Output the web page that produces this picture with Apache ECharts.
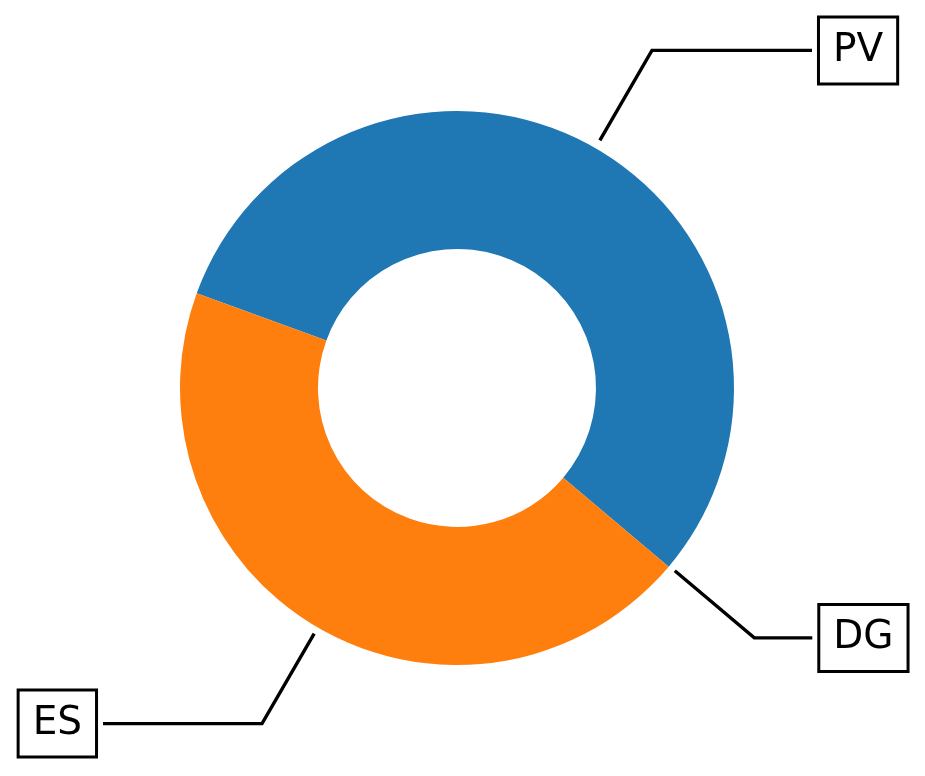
<!DOCTYPE html>
<html>
<head>
<meta charset="utf-8">
<script src="https://cdn.jsdelivr.net/npm/echarts@6/dist/echarts.min.js"></script>
<style>
html,body{margin:0;padding:0;background:#fff;}
#chart{width:925px;height:776px;}
</style>
</head>
<body>
<div id="chart"></div>
<script>
// Data
const categories = ['PV', 'DG', 'ES'];
const values = [55.6, 0, 44.4];

// Styles (kept separate from data)
const sliceColors = { PV: '#1f77b4', DG: '#2ca02c', ES: '#ff7f0e' };
const secondLegs = { PV: 160, DG: 58, ES: 159 };

const chart = echarts.init(document.getElementById('chart'), null, { renderer: 'canvas' });

const ringData = categories.map((c, i) => ({
  name: c,
  value: values[i],
  itemStyle: { color: sliceColors[c] }
}));

const labelData = categories.map((c, i) => ({
  name: c,
  value: values[i],
  labelLine: { length2: secondLegs[c] }
}));

const common = {
  type: 'pie',
  center: [457, 388],
  startAngle: 160,
  clockwise: true,
  silent: true,
  avoidLabelOverlap: false,
  animation: false,
  emphasis: { disabled: true }
};

chart.setOption({
  backgroundColor: '#fff',
  animation: false,
  series: [
    Object.assign({}, common, {
      radius: [139, 277],
      label: { show: false },
      labelLine: { show: false },
      data: ringData
    }),
    Object.assign({}, common, {
      radius: [0, 285],
      center: [457, 387],
      itemStyle: { color: 'rgba(0,0,0,0)' },
      label: {
        show: true,
        position: 'outside',
        formatter: '{b}',
        color: '#000',
        fontFamily: 'DejaVu Sans',
        fontSize: 39,
        lineHeight: 40,
        backgroundColor: '#fff',
        borderColor: '#000',
        borderWidth: 3,
        padding: [12, 13],
        distanceToLabelLine: 8
      },
      labelLine: {
        show: true,
        length: 104,
        length2: 160,
        smooth: false,
        lineStyle: { color: '#000', width: 3.4 }
      },
      data: labelData
    })
  ]
});
</script>
</body>
</html>
